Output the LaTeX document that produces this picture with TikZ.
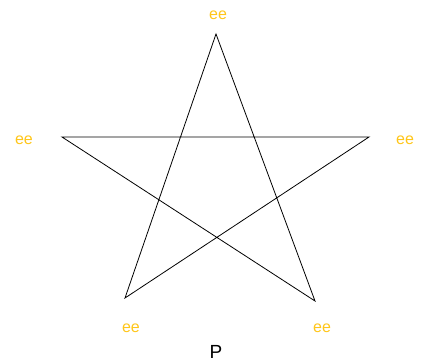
\documentclass[tikz,border=0pt]{standalone}
\usepackage{fontspec}
\setmainfont{Liberation Sans}
\usepackage{tikz}
\usetikzlibrary{positioning}
\definecolor{gold}{HTML}{FFC61A}

\begin{document}
\begin{tikzpicture}[x=1pt, y=-1pt, every node/.style={font=\fontsize{16}{18}\selectfont},
  tip/.style={gold, inner sep=0pt}]
  %% Canvas
  \useasboundingbox (0,0) rectangle (425,363);

  %% Star corners
  \coordinate (top) at (216,34);
  \coordinate (left) at (62,137);
  \coordinate (right) at (369,137);
  \coordinate (botleft) at (125,298);
  \coordinate (botright) at (315,301);

  %% Pentagram
  \draw[line width=0.8pt, line join=miter] (top) -- (botleft) -- (right) -- (left) -- (botright) -- cycle;

  %% Corner labels
  \node[tip] (ltop) at (218,15) {ee};
  \node[tip] (lleft) at (24,140) {ee};
  \node[tip] (lright) at (405,140) {ee};
  \node[tip] (lbotleft) at (131,328) {ee};
  \node[tip] (lbotright) at (322,328) {ee};

  %% Caption
  \node[font=\fontsize{19}{22}\selectfont, inner sep=0pt] (cap) at (216,352) {P};
\end{tikzpicture}
\end{document}
